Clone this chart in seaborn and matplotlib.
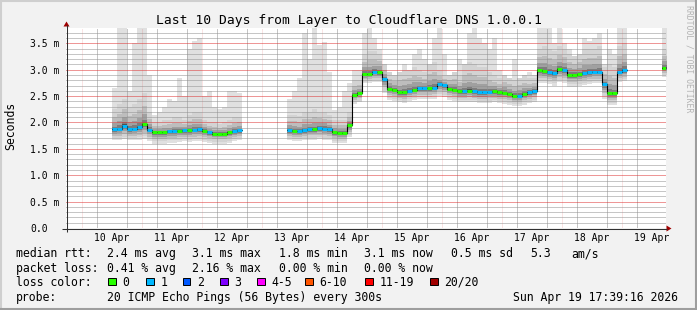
import numpy as np
import pandas as pd
import matplotlib
matplotlib.use('Agg')
import matplotlib.pyplot as plt
import matplotlib.dates as mdates
from matplotlib.ticker import FixedLocator
from matplotlib.patches import Rectangle, Polygon
import seaborn as sns

# ---------------- data (2-hour steps, three contiguous segments) ----------------
seg_start = ['2026-04-10 12:00', '2026-04-13 10:00', '2026-04-19 16:00']

median_a = [1.87, 1.88, 1.94, 1.87, 1.88, 1.91, 1.97, 1.86, 1.81, 1.81, 1.81, 1.83, 1.83,
            1.84, 1.85, 1.85, 1.86, 1.87, 1.84, 1.81, 1.79, 1.79, 1.79, 1.81, 1.83, 1.85]
median_b = [1.85, 1.84, 1.83, 1.85, 1.87, 1.87, 1.89, 1.88, 1.87, 1.81, 1.80, 1.80, 1.95,
            2.52, 2.56, 2.92, 2.92, 2.95, 2.95, 2.82, 2.64, 2.62, 2.57, 2.57, 2.60, 2.62,
            2.65, 2.65, 2.65, 2.66, 2.72, 2.71, 2.64, 2.62, 2.59, 2.59, 2.60, 2.59, 2.57,
            2.57, 2.58, 2.59, 2.57, 2.56, 2.54, 2.51, 2.51, 2.54, 2.57, 2.59, 2.99, 2.98,
            2.95, 2.93, 3.01, 2.99, 2.90, 2.90, 2.91, 2.93, 2.95, 2.96, 2.96, 2.72, 2.55,
            2.55, 2.96, 2.99]
median_c = [3.04]

loss_a = [1, 1, 1, 1, 1, 1, 0, 1, 0, 0, 0, 1, 1, 0, 1, 0, 1, 1, 0, 1, 0, 0, 0, 0, 1, 1]
loss_b = [1, 0, 1, 1, 1, 0, 1, 1, 1, 0, 0, 0, 0, 0, 0, 0, 0, 1, 0, 1, 0, 0, 0, 0, 1, 0,
          1, 1, 0, 1, 1, 1, 0, 0, 0, 1, 0, 1, 1, 1, 1, 0, 0, 0, 0, 0, 1, 0, 1, 1, 0, 0,
          1, 1, 0, 1, 0, 0, 0, 1, 1, 1, 1, 1, 0, 0, 1, 1]
loss_c = [0]

# slowest ping per step
high_a = [2.65, 3.8, 3.8, 2.6, 3.5, 3.8, 3.8, 2.9, 2.15, 2.2, 2.3, 2.45, 2.4, 2.85, 2.5,
          3.4, 3.55, 3.6, 2.5, 2.6, 2.3, 2.25, 2.3, 2.6, 2.6, 2.55]
high_b = [2.45, 2.6, 2.85, 3.7, 3.2, 3.8, 3.47, 3.53, 2.95, 2.24, 2.3, 2.6, 2.75, 3.0, 3.0,
          3.7, 3.8, 3.6, 3.4, 3.0, 2.8, 2.75, 2.9, 3.1, 3.0, 3.3, 3.4, 3.2, 3.0, 3.6, 3.8,
          3.3, 2.85, 2.8, 3.2, 2.9, 3.7, 3.8, 3.6, 3.5, 3.4, 3.6, 3.0, 2.9, 2.8, 3.2, 2.85,
          2.9, 2.95, 2.9, 3.8, 3.8, 3.8, 3.5, 3.8, 3.5, 3.4, 3.2, 3.25, 3.6, 3.55, 3.6, 3.7,
          3.1, 3.4, 3.3, 3.8, 3.8]
high_c = [3.8]

# upper edge of the dense smoke
upper_a = [2.25, 2.35, 2.45, 2.3, 2.35, 2.45, 2.55, 2.2, 2.0, 2.0, 2.05, 2.05, 2.1, 2.1,
           2.05, 2.15, 2.2, 2.2, 2.05, 2.0, 2.0, 1.98, 2.0, 2.05, 2.1, 2.1]
upper_b = [2.15, 2.15, 2.12, 2.2, 2.2, 2.25, 2.2, 2.2, 2.15, 2.05, 2.05, 2.05, 2.2, 2.8,
           2.8, 3.3, 3.35, 3.35, 3.3, 3.1, 2.95, 2.9, 2.95, 3.0, 3.0, 3.05, 3.0, 2.95,
           3.1, 3.15, 3.0, 2.9, 2.9, 2.95, 2.9, 3.1, 3.15, 3.1, 3.05, 3.05, 2.95, 2.9,
           2.85, 2.9, 2.85, 2.8, 2.85, 2.9, 2.85, 2.85, 3.4, 3.45, 3.4, 3.35, 3.45, 3.4,
           3.3, 3.25, 3.3, 3.4, 3.4, 3.4, 3.45, 3.05, 3.1, 3.05, 3.45, 3.5]
upper_c = [3.4]

# fastest ping per step
low_a = [1.66, 1.66, 1.68, 1.66, 1.66, 1.67, 1.68, 1.64, 1.6, 1.6, 1.6, 1.62, 1.62, 1.63,
         1.64, 1.63, 1.64, 1.65, 1.63, 1.62, 1.6, 1.6, 1.6, 1.62, 1.64, 1.66]
low_b = [1.66, 1.65, 1.64, 1.66, 1.67, 1.67, 1.68, 1.67, 1.66, 1.62, 1.61, 1.62, 1.72,
         2.35, 2.38, 2.74, 2.75, 2.77, 2.76, 2.55, 2.42, 2.40, 2.38, 2.37, 2.40, 2.42,
         2.44, 2.44, 2.44, 2.45, 2.50, 2.48, 2.42, 2.40, 2.38, 2.38, 2.39, 2.38, 2.36,
         2.36, 2.37, 2.38, 2.36, 2.35, 2.33, 2.31, 2.31, 2.34, 2.37, 2.39, 2.74, 2.74,
         2.72, 2.70, 2.76, 2.75, 2.68, 2.68, 2.69, 2.71, 2.73, 2.74, 2.74, 2.45, 2.33,
         2.33, 2.76, 2.78]
low_c = [2.86]

day_labels = ['10 Apr', '11 Apr', '12 Apr', '13 Apr', '14 Apr', '15 Apr', '16 Apr',
              '17 Apr', '18 Apr', '19 Apr']
ytick_values = [0.0, 0.5, 1.0, 1.5, 2.0, 2.5, 3.0, 3.5]
ytick_labels = ['0.0', '0.5 m', '1.0 m', '1.5 m', '2.0 m', '2.5 m', '3.0 m', '3.5 m']
loss_labels = ['0', '1', '2', '3', '4-5', '6-10', '11-19', '20/20']
loss_colors = ['#26ff00', '#00b8ff', '#0059ff', '#7e00ff', '#ff00ff', '#ff5500',
               '#ff0000', '#a10000']
rtt_items = ['median rtt:', '2.4 ms avg', '3.1 ms max', '1.8 ms min', '3.1 ms now',
             '0.5 ms sd', '5.3', 'am/s']
pl_items = ['packet loss:', '0.41 % avg', '2.16 % max', '0.00 % min', '0.00 % now']
probe_items = ['probe:', '20 ICMP Echo Pings (56 Bytes) every 300s',
               'Sun Apr 19 17:39:16 2026']
title = 'Last 10 Days from Layer to Cloudflare DNS 1.0.0.1'

# ---------------- style ----------------
W, H = 697, 310
BG = '#f2f2f2'
sns.set_theme(style='white')
plt.rcParams['font.family'] = ['DejaVu Sans Mono', 'DejaVu Sans']

fig = plt.figure(figsize=(W / 100, H / 100), dpi=100, facecolor=BG)
ax = fig.add_axes([65.8 / W, (H - 228) / H, 600 / W, 200 / H])
ax.set_facecolor('white')
for s in ax.spines.values():
    s.set_visible(False)

t_start = pd.Timestamp('2026-04-09 17:39:16')
t_end = pd.Timestamp('2026-04-19 17:39:16')
ax.set_xlim(t_start, t_end)
ax.set_ylim(0, 3.79)

# grid (semi-transparent, drawn over the smoke like rrdtool)
GRID = (0.56, 0.56, 0.56, 0.26)
MGRID = (0.87, 0.19, 0.19, 0.26)
dots = (0, (1, 1))
ax.set_axisbelow(False)
ax.yaxis.set_minor_locator(FixedLocator(
    [k / 10 for k in range(1, 38) if k % 5 != 0]))
ax.xaxis.set_minor_locator(mdates.HourLocator(byhour=[6, 12, 18]))
ax.grid(which='minor', color=GRID, lw=0.72, ls=dots, zorder=2)
ax.grid(which='major', axis='y', color=MGRID, lw=0.72, ls=dots, zorder=2)
ax.grid(which='major', axis='x', visible=False)
for d in pd.date_range('2026-04-10', '2026-04-19', freq='D'):
    ax.axvline(d, color=MGRID, lw=0.72, ls=dots, zorder=2)

ax.set_yticks(ytick_values)
ax.set_yticklabels(ytick_labels, ha='left')
ax.set_xticks(pd.date_range('2026-04-10 12:00', periods=len(day_labels), freq='D'))
ax.set_xticklabels(day_labels)
ax.tick_params(which='both', length=0, labelcolor='black', labelsize=7)
ax.tick_params(axis='y', pad=25.8)
ax.tick_params(axis='x', pad=3.5)

# ---------------- smoke + median ----------------
step = pd.Timedelta(hours=2)
segments = list(zip(seg_start,
                    [median_a, median_b, median_c],
                    [loss_a, loss_b, loss_c],
                    [high_a, high_b, high_c],
                    [upper_a, upper_b, upper_c],
                    [low_a, low_b, low_c]))
# (fraction of upper spread, fraction of lower spread, grey)
layers = [(1.0, 0.8, '#d3d3d3'), (0.6, 0.58, '#bdbdbd'), (0.32, 0.38, '#a0a0a0'),
          (0.14, 0.22, '#7d7d7d'), (0.05, 0.1, '#505050')]

rows = []
for k, (start, med, loss, hi, up, lo) in enumerate(segments):
    t = pd.date_range(start, periods=len(med), freq='2h')
    te = t.append(pd.DatetimeIndex([t[-1] + step]))
    m = np.array(med + [med[-1]], dtype=float)
    h = np.array(hi + [hi[-1]], dtype=float)
    u = np.array(up + [up[-1]], dtype=float)
    l = np.array(lo + [lo[-1]], dtype=float)
    ax.fill_between(te, l, h, step='post', color='#e0e0e0', lw=0, zorder=1)
    for uf, lf, c in layers:
        ax.fill_between(te, m - lf * (m - l), m + uf * (u - m), step='post',
                        color=c, lw=0, zorder=1.1)
    for ti, mi in zip(te, m):
        rows.append({'time': ti, 'median': mi, 'seg': k})
    ax.hlines(med, t, t + step, colors=[loss_colors[v] for v in loss],
              lw=2.2, zorder=4, capstyle='butt')

df = pd.DataFrame(rows)
sns.lineplot(data=df, x='time', y='median', units='seg', estimator=None,
             drawstyle='steps-post', color='black', lw=0.8, ax=ax,
             legend=False, zorder=3)
ax.set_xlabel('')
ax.set_ylabel('')
ax.set_xlim(t_start, t_end)
ax.set_ylim(0, 3.79)

# ---------------- overlay (pixel coordinates) ----------------
ov = fig.add_axes([0, 0, 1, 1])
ov.set_xlim(0, W)
ov.set_ylim(H, 0)
ov.axis('off')

# frame shading
ov.plot([0.5, 0.5], [0, H], color='#cfcfcf', lw=1.5)
ov.plot([0, W], [0.5, 0.5], color='#cfcfcf', lw=1.5)
ov.plot([W - 1, W - 1], [0, H], color='#9e9e9e', lw=1.5)
ov.plot([0, W], [H - 1, H - 1], color='#9e9e9e', lw=1.5)

# axes with arrows
AX = '#303030'
ARROW = '#a00000'
ov.plot([66.5, 66.5], [232, 25], color=AX, lw=0.75, solid_capstyle='butt')
ov.plot([62, 667], [228.5, 228.5], color=AX, lw=0.75, solid_capstyle='butt')
ov.add_patch(Polygon([[63.5, 26.5], [69.5, 26.5], [66.5, 21.5]], closed=True,
                     color=ARROW, lw=0))
ov.add_patch(Polygon([[666.5, 225.5], [666.5, 231.5], [671.5, 228.5]], closed=True,
                     color=ARROW, lw=0))

# title / labels
ov.text(348.5, 24, title, ha='center', va='baseline', fontsize=9.4, color='black')
ov.text(11, 125.5, 'Seconds', rotation=90, ha='center', va='center',
        fontsize=8.3, color='black')
ov.text(688.5, 5, 'RRDTOOL / TOBI OETIKER', rotation=270, ha='center', va='top',
        fontsize=5.9, color='#b3b3b3')

# legend
LF = 8.3
rtt_x = [15.5, 106.7, 192.1, 278.7, 364.4, 451.1, 530.1, 571.1]
for x, s in zip(rtt_x, rtt_items):
    ov.text(x, 257.3, s, ha='left', va='baseline', fontsize=LF, color='black')
pl_x = [15.5, 106.7, 192.1, 278.7, 364.4]
for x, s in zip(pl_x, pl_items):
    ov.text(x, 271.8, s, ha='left', va='baseline', fontsize=LF, color='black')
ov.text(15.5, 285.8, 'loss color:', ha='left', va='baseline', fontsize=LF, color='black')
box_x = [108.3, 146.0, 182.7, 220.0, 257.0, 305.0, 365.0, 430.0]
for x, lab, c in zip(box_x, loss_labels, loss_colors):
    ov.add_patch(Rectangle((x, 277.5), 7.5, 7.5, facecolor=c, edgecolor='black', lw=0.7))
    ov.text(x + 14.3, 285.8, lab, ha='left', va='baseline', fontsize=LF, color='black')
probe_x = [15.5, 106.7, 512.7]
for x, s in zip(probe_x, probe_items):
    ov.text(x, 300.5, s, ha='left', va='baseline', fontsize=LF, color='black')

fig.savefig('out.png', dpi=100, facecolor=BG)
